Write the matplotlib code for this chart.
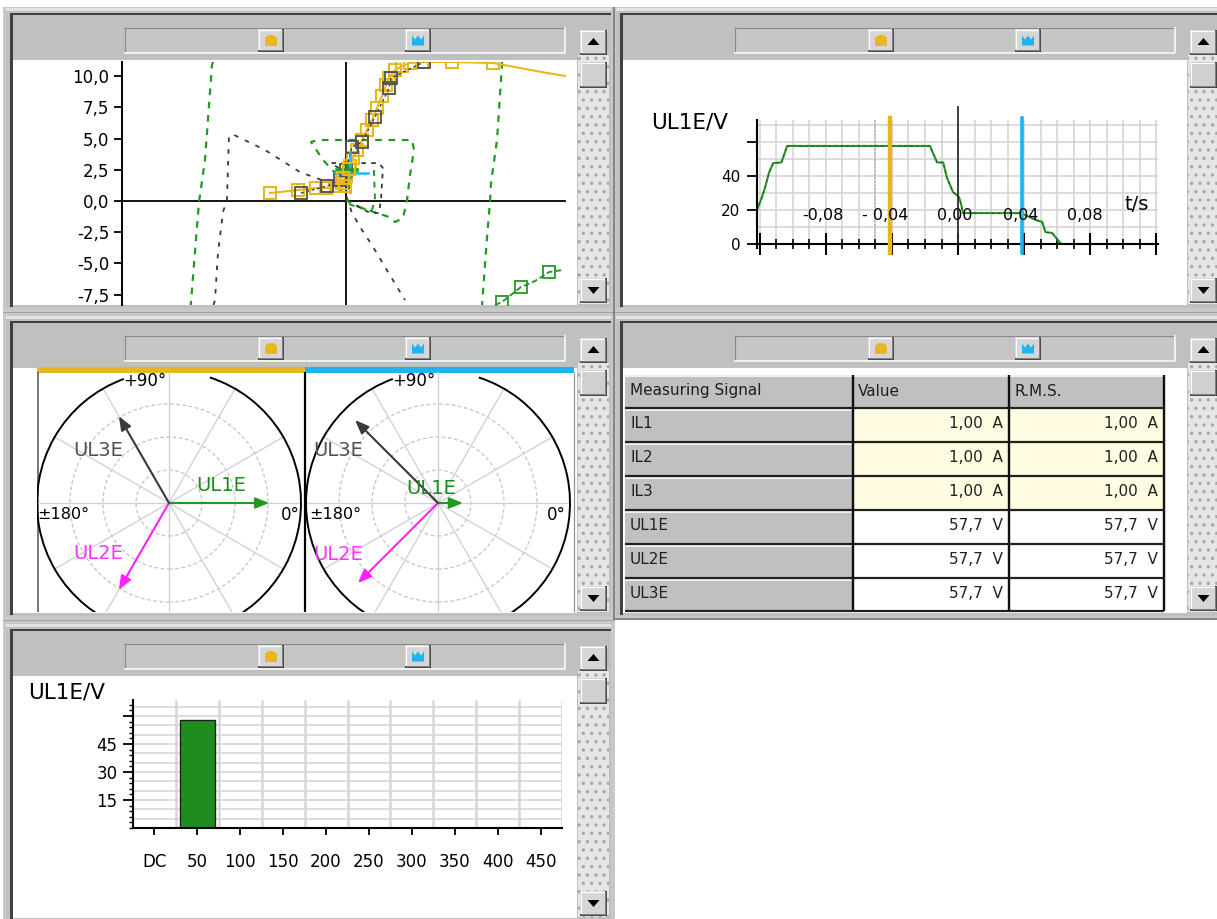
import matplotlib
matplotlib.use('Agg')
import matplotlib.pyplot as plt
from matplotlib.patches import Rectangle, Circle, Arc, Polygon, Ellipse
from matplotlib.ticker import MultipleLocator
import numpy as np

plt.rcParams['font.family'] = ['DejaVu Sans']
plt.rcParams['hatch.color'] = '#A0A0A0'
plt.rcParams['hatch.linewidth'] = 1.2

W, H = 1217, 919
YEL = '#E6B81E'
CYA = '#1EB4F0'
GRN = '#229A22'
DGR = '#3A3A3A'
MAG = '#FF22FF'
GRAYBG = '#C0C0C0'

# ------------------------------------------------------------------ data
# top-left locus plot
tl_yticks = [-7.5, -5.0, -2.5, 0.0, 2.5, 5.0, 7.5, 10.0]
tl_yticklabels = ['-7,5', '-5,0', '-2,5', '0,0', '2,5', '5,0', '7,5', '10,0']
yel_x = [-6.09, -3.85, -2.40, -1.60, -0.80, -0.32, 0.00, 0.32, 0.56, 0.88, 1.28, 1.68, 2.08,
         2.48, 2.88, 3.21, 3.45, 3.93, 4.49, 5.13, 6.09, 8.49, 11.78, 13.94, 16.11, 17.55]
yel_y = [0.64, 0.88, 1.04, 1.04, 1.20, 1.44, 2.00, 2.80, 3.45, 4.09, 4.89, 5.69, 6.49,
         7.45, 8.41, 9.29, 9.86, 10.50, 10.82, 11.06, 11.14, 11.14, 11.06, 10.66, 10.26, 10.02]
gsq_x = [-3.61, -1.52, -0.48, 0.00, 0.48, 1.28, 2.32, 3.45, 3.61, 6.25]
gsq_y = [0.64, 1.20, 1.68, 2.48, 4.33, 4.73, 6.73, 9.05, 9.86, 11.14]
gd_x = [-10.62, -10.50, -10.26, -9.86, -9.54, -9.38, -9.13, -6.49, -3.69, -1.28, 0.00,
        0.48, 1.28, 2.08, 3.13, 4.09, 4.73]
gd_y = [-8.33, -7.93, -4.17, -0.88, 0.08, 5.13, 5.37, 4.09, 2.32, 1.44, 0.48,
        -0.96, -2.32, -3.53, -5.29, -6.89, -7.93]
gl_x = [-10.66, -10.74, -11.30, -11.78, -12.44]
gl_y = [11.14, 10.90, 3.29, -0.08, -8.33]
gr_x = [12.50, 12.50, 12.10, 11.62, 11.54, 11.30, 10.90]
gr_y = [11.14, 10.90, 4.89, 1.44, -0.08, -2.88, -8.33]
gb_x = [0.00, -1.84, -2.80, -2.24, 5.29, 5.45, 5.13, 4.89, 4.57, 3.93, 3.45, 2.24, 0.64, 0.00]
gb_y = [1.28, 3.29, 4.73, 4.89, 4.89, 4.09, 2.08, 0.08, -1.36, -1.68, -1.28, -0.88, -0.32, 0.08]
gs_x = [0.10, -1.20, 2.64, 2.96, 2.80, 2.64, 1.92, 0.48]
gs_y = [2.20, 3.04, 3.04, 2.64, 0.08, -0.96, -0.96, -0.16]
gi_x = [2.24, 2.32, 2.08, 1.12, 0.00]
gi_y = [2.48, 0.08, -0.72, -0.56, -0.16]
cyh_x = [-0.88, 1.76]
cyh_y = [2.24, 2.24]
cyv_x = [0.32, 0.32]
cyv_y = [0.72, 3.85]
gc_x = [-0.72, 0.88, 0.30, 0.08, 0.32]
gc_y = [2.48, 2.48, 2.48, 3.04, 1.12]
ysq_c_x = [-0.24, -0.08, 0.20]
ysq_c_y = [1.84, 1.20, 2.60]
gsr_x = [11.94, 12.50, 14.02, 15.14, 16.27, 17.31]
gsr_y = [-8.33, -8.09, -6.89, -6.41, -5.69, -5.53]

# top-right time signal
tr_t = [-0.1218, -0.119, -0.117, -0.1145, -0.112, -0.107, -0.105, -0.1036, -0.017, -0.0127,
        -0.009, -0.0067, -0.003, 0.0006, 0.002, 0.003, 0.038, 0.0475, 0.051, 0.053, 0.057,
        0.0625, 0.1212]
tr_v = [20, 27, 33, 42, 47.6, 48, 53.5, 57.7, 57.7, 48, 48, 39, 30.6, 27.6, 23, 18.2, 18.2,
        14, 13, 7, 6.5, 0, 0]
tr_yticks = [0, 20, 40, 60]
tr_yticklabels = ['0', '20', '40', '']
tr_xlabel_t = [-0.082, -0.044, -0.002, 0.038, 0.077]
tr_xlabels = ['-0,08', '- 0,04', '0,00', '0,04', '0,08']
cursor_t = [-0.041, 0.039]
ref_t = -0.05

# phasor diagrams
phasor_names = ['UL1E', 'UL2E', 'UL3E']
pol_left_ang = [0, -120, 120]
pol_left_mag = [57.7, 57.7, 57.7]
pol_right_ang = [0, -135, 135]
pol_right_mag = [14.4, 65.2, 67.5]
ring_r = [19, 38, 57]
outer_r = 76

# table
tbl_header = ['Measuring Signal', 'Value', 'R.M.S.']
tbl_signals = ['IL1', 'IL2', 'IL3', 'UL1E', 'UL2E', 'UL3E']
tbl_value = [1.00, 1.00, 1.00, 57.7, 57.7, 57.7]
tbl_rms = [1.00, 1.00, 1.00, 57.7, 57.7, 57.7]
tbl_unit = ['A', 'A', 'A', 'V', 'V', 'V']

# harmonics bar chart
harm_labels = ['DC', '50', '100', '150', '200', '250', '300', '350', '400', '450']
harm_values = [0, 57.7, 0, 0, 0, 0, 0, 0, 0, 0]
harm_yticks = [15, 30, 45, 60]
harm_yticklabels = ['15', '30', '45', '']

# ------------------------------------------------------------------ figure
fig = plt.figure(figsize=(W / 100, H / 100), dpi=100)
bg = fig.add_axes([0, 0, 1, 1])
bg.set_xlim(0, W)
bg.set_ylim(H, 0)
bg.axis('off')
PX = 0.72


def R(x0, y0, x1, y1, fc, z=1, **kw):
    bg.add_patch(Rectangle((x0, y0), x1 - x0, y1 - y0, facecolor=fc,
                           edgecolor=kw.pop('ec', 'none'), linewidth=kw.pop('lw', 0), zorder=z, **kw))


def L(xs, ys, c, w=1.0, z=2, **kw):
    bg.plot(xs, ys, color=c, lw=w * PX, zorder=z, solid_capstyle='butt', **kw)


def bevel(x0, y0, x1, y1, fc, z=3):
    R(x0, y0, x1, y1, fc, z=z)
    L([x0, x1], [y0 + 0.5, y0 + 0.5], 'white', 1.2, z + 0.1)
    L([x0 + 0.5, x0 + 0.5], [y0, y1], 'white', 1.2, z + 0.1)
    L([x0, x1], [y1 - 0.7, y1 - 0.7], '#202020', 1.5, z + 0.1)
    L([x1 - 0.7, x1 - 0.7], [y0, y1], '#202020', 1.5, z + 0.1)
    L([x0 + 1, x1 - 1.5], [y1 - 2.2, y1 - 2.2], '#808080', 1, z + 0.1)
    L([x1 - 2.2, x1 - 2.2], [y0 + 1, y1 - 1.5], '#808080', 1, z + 0.1)


def axpx(x0, y0, x1, y1):
    a = fig.add_axes([x0 / W, 1 - y1 / H, (x1 - x0) / W, (y1 - y0) / H])
    a.set_facecolor('none')
    return a


def panel(x0, y0, x1, y1):
    R(x0, y0, x1, y1, GRAYBG)
    R(x0, y0, x1, y0 + 3, '#E2E2E2', z=1.1)
    R(x0 + 4, y0 + 5, x1, y0 + 7, '#404040', z=1.2)
    R(x0 + 4, y0 + 5, x0 + 7, y1 - 1, '#404040', z=1.2)
    R(x0 + 7, y0 + 52, x1 - 34, y1 - 3, 'white', z=1.3)
    # title bar strip
    R(x0 + 118, y0 + 19, x0 + 559, y0 + 45, '#C6C6C6', z=1.4)
    L([x0 + 118, x0 + 559], [y0 + 19.5, y0 + 19.5], '#8A8A8A', 1.2, 1.5)
    L([x0 + 118.5, x0 + 118.5], [y0 + 19, y0 + 45], '#8A8A8A', 1.2, 1.5)
    L([x0 + 118, x0 + 559], [y0 + 44.5, y0 + 44.5], 'white', 1.5, 1.5)
    L([x0 + 558.5, x0 + 558.5], [y0 + 19, y0 + 45], 'white', 1.5, 1.5)
    # buttons with icons
    for bx, col, kind in [(x0 + 252, YEL, 'dome'), (x0 + 399, CYA, 'crown')]:
        bevel(bx, y0 + 21, bx + 26, y0 + 44, '#D6D6D6')
        cx, cy = bx + 13, y0 + 32.5
        if kind == 'dome':
            bg.add_patch(Rectangle((cx - 6, cy - 1), 12, 6, facecolor=col, edgecolor='none', zorder=4))
            bg.add_patch(Ellipse((cx, cy - 1), 12, 9, facecolor=col, edgecolor='none', zorder=4))
        else:
            bg.add_patch(Polygon([(cx - 6, cy + 5), (cx - 6, cy - 5), (cx - 3, cy - 1), (cx, cy - 5),
                                  (cx + 3, cy - 1), (cx + 6, cy - 5), (cx + 6, cy + 5)],
                                 closed=True, facecolor=col, edgecolor='none', zorder=4))
    # scrollbar
    R(x1 - 33, y0 + 47, x1 - 2, y1 - 4, '#E6E6E6', z=1.4, hatch='..', ec='#A8A8A8', lw=0)
    bevel(x1 - 31, y0 + 22, x1 - 4, y0 + 47, '#D6D6D6')
    ux, uy = x1 - 17.5, y0 + 34
    bg.add_patch(Polygon([(ux - 6, uy + 3), (ux + 6, uy + 3), (ux, uy - 4)], closed=True,
                         facecolor='black', edgecolor='none', zorder=4))
    bevel(x1 - 31, y0 + 54, x1 - 4, y0 + 80, '#D0D0D0')
    bevel(x1 - 31, y1 - 30, x1 - 4, y1 - 5, '#D6D6D6')
    dx, dy = x1 - 17.5, y1 - 18
    bg.add_patch(Polygon([(dx - 6, dy - 3), (dx + 6, dy - 3), (dx, dy + 4)], closed=True,
                         facecolor='black', edgecolor='none', zorder=4))


R(0, 0, W, H, 'white', z=0.5)
R(3, 7, W, 620, '#C8C8C8', z=0.6)
R(3, 620, 615, H, '#C8C8C8', z=0.6)
L([3, W], [312, 312], '#808080', 1, 0.7, linestyle=(0, (1, 1)))
L([3, 615], [620, 620], '#808080', 1, 0.7, linestyle=(0, (1, 1)))
L([613.5, 613.5], [7, 620], '#707070', 1.5, 0.7)
L([615, W], [619, 619], '#707070', 1.5, 0.7)

panel(6, 8, 611, 308)
panel(616, 8, 1221, 308)
panel(6, 316, 611, 616)
panel(616, 316, 1221, 616)
panel(6, 624, 611, 921)

# ------------------------------------------------------------------ top-left: locus
ax1 = axpx(122, 62, 576, 305)
ax1.set_xlim(-17.95, 18.43)
ax1.set_ylim(-8.33, 11.14)
for s in ['top', 'right', 'bottom']:
    ax1.spines[s].set_visible(False)
ax1.spines['left'].set_linewidth(1.4)
ax1.set_xticks([])
ax1.set_yticks(tl_yticks)
ax1.set_yticklabels(tl_yticklabels)
ax1.tick_params(axis='y', length=6, width=1.3, labelsize=12, pad=3)
ax1.plot([-17.95, 17.55], [0, 0], color='black', lw=1.3, zorder=2)
ax1.plot([0, 0], [-8.33, 11.14], color='black', lw=1.3, zorder=2)
ax1.plot(gl_x, gl_y, color=GRN, lw=1.6, ls=(0, (3, 3)), zorder=3)
ax1.plot(gr_x, gr_y, color=GRN, lw=1.6, ls=(0, (3, 3)), zorder=3)
ax1.plot(gd_x, gd_y, color=DGR, lw=1.3, ls=(0, (2.5, 4)), zorder=3)
ax1.plot(gb_x, gb_y, color=GRN, lw=1.6, ls=(0, (3, 3)), zorder=3)
ax1.plot(gs_x, gs_y, color=DGR, lw=1.3, ls=(0, (2.5, 3)), zorder=3)
ax1.plot(gi_x, gi_y, color=GRN, lw=1.4, ls=(0, (3, 3)), zorder=3)
ax1.plot(yel_x, yel_y, color=YEL, lw=1.5, marker='s', ms=8, mfc='none', mec=YEL, mew=1.5,
         markevery=list(range(0, 23)), zorder=4)
ax1.plot(gsq_x, gsq_y, color=DGR, lw=1.0, ls=(0, (2, 2)), marker='s', ms=8, mfc='none',
         mec='#505050', mew=1.3, zorder=4)
ax1.plot(cyh_x, cyh_y, color=CYA, lw=1.8, zorder=5)
ax1.plot(cyv_x, cyv_y, color=CYA, lw=1.8, zorder=5)
ax1.plot(gc_x[:2], gc_y[:2], color=GRN, lw=2.6, zorder=5)
ax1.plot(gc_x[3:], gc_y[3:], color=GRN, lw=2.6, zorder=5)
ax1.plot(ysq_c_x, ysq_c_y, ls='none', marker='s', ms=8, mfc='none', mec=YEL, mew=1.5, zorder=5)
ax1.plot(gsr_x, gsr_y, color=GRN, lw=1.4, ls=(0, (3, 1.5)), marker='s', ms=8, mfc='none',
         mec=GRN, mew=1.3, markevery=[1, 2, 4], zorder=4)

# ------------------------------------------------------------------ top-right: time signal
ax2 = axpx(757, 105, 1160, 256)
ax2.set_xlim(-0.1218, 0.1224)
ax2.set_ylim(-7.06, 81.8)
for s in ['top', 'right']:
    ax2.spines[s].set_visible(False)
ax2.spines['left'].set_bounds(-2.4, 72.9)
ax2.spines['left'].set_linewidth(1.5)
ax2.spines['bottom'].set_position(('data', 0))
ax2.spines['bottom'].set_bounds(-0.1218, 0.1212)
ax2.spines['bottom'].set_linewidth(1.5)
ax2.xaxis.set_major_locator(MultipleLocator(0.04))
ax2.xaxis.set_minor_locator(MultipleLocator(0.01))
ax2.tick_params(axis='x', which='major', direction='inout', length=16, width=1.5, labelbottom=False)
ax2.tick_params(axis='x', which='minor', direction='inout', length=7, width=1.2)
ax2.set_yticks(tr_yticks)
ax2.set_yticklabels(tr_yticklabels)
ax2.tick_params(axis='y', direction='out', length=7, width=1.3, labelsize=11, pad=5)
ax2.vlines(np.arange(-0.12, 0.1201, 0.01), 0, 72.9, color='#D2D2D2', lw=1.1, zorder=0.5)
ax2.hlines(np.arange(10, 71, 10), -0.1218, 0.1212, color='#D2D2D2', lw=1.1, zorder=0.5)
ax2.plot([ref_t, ref_t], [0, 72.9], color='#B4B4B4', lw=1.3, ls=(0, (1, 1)), zorder=0.6)
ax2.plot(tr_t, tr_v, color=GRN, lw=1.5, zorder=2)
ax2.plot(tr_t, tr_v, color='#1C4A1C', lw=0.6, ls=(0, (3, 4)), zorder=2.1)
ax2.plot([0, 0], [0, 80.6], color='#303030', lw=1.3, zorder=2.2)
ax2.plot([cursor_t[0]] * 2, [-5.3, 74.1], color=YEL, lw=3.2, zorder=3, clip_on=False)
ax2.plot([cursor_t[1]] * 2, [-5.3, 74.1], color=CYA, lw=2.6, zorder=3, clip_on=False)
for t, lab in zip(tr_xlabel_t, tr_xlabels):
    ax2.text(t, 17.0, lab, ha='center', va='center', fontsize=11.5, zorder=4)
ax2.text(0.1085, 23.5, 't/s', ha='center', va='center', fontsize=14, zorder=4)
bg.text(651, 122, 'UL1E/V', ha='left', va='center', fontsize=15.5, zorder=5)

# ------------------------------------------------------------------ middle-left: phasors
PPU = 1.737
R(37, 367, 305, 373, YEL, z=2)
R(305, 367, 574, 373, CYA, z=2)
L([37.5, 37.5], [372, 612], '#505050', 1.5, 2)
L([573.5, 573.5], [372, 612], '#909090', 1.2, 2)
name_cols = [GRN, MAG, DGR]
text_cols = ['#1E8A1E', '#FF33FF', '#505050']


def phasor_axes(xa0, xa1, cx, cy, angs, mags, lab_pos, ang_pos):
    a = axpx(xa0, 372, xa1, 612)
    a.set_xlim((xa0 - cx) / PPU, (xa1 - cx) / PPU)
    a.set_ylim((cy - 612) / PPU, (cy - 372) / PPU)
    a.axis('off')
    for rr in ring_r:
        a.add_patch(Circle((0, 0), rr, fill=False, ec='#C4C4C4', lw=0.9, ls=(0, (3, 2))))
    for ang in range(0, 360, 30):
        a.plot([0, outer_r * np.cos(np.radians(ang))], [0, outer_r * np.sin(np.radians(ang))],
               color='#CFCFCF', lw=0.9, zorder=1)
    a.add_patch(Arc((0, 0), 2 * outer_r, 2 * outer_r, theta1=110, theta2=72, color='black', lw=1.4))
    for ang, m, c in zip(angs, mags, name_cols):
        tip = (m * np.cos(np.radians(ang)), m * np.sin(np.radians(ang)))
        a.annotate('', xy=tip, xytext=(0, 0),
                   arrowprops=dict(arrowstyle='-|>,head_length=0.55,head_width=0.22', color=c,
                                   lw=1.5, shrinkA=0, shrinkB=0, mutation_scale=15), zorder=3)
    for nm, pos, tc in zip(phasor_names, lab_pos, text_cols):
        a.text(pos[0], pos[1], nm, color=tc, fontsize=14, ha='center', va='center', zorder=4)
    a.text(ang_pos[0][0], ang_pos[0][1], '+90°', fontsize=12, ha='center', va='center', zorder=4)
    a.text(ang_pos[1][0], ang_pos[1][1], '±180°', fontsize=11.5, ha='center', va='center', zorder=4)
    a.text(ang_pos[2][0], ang_pos[2][1], '0°', fontsize=12, ha='center', va='center', zorder=4)
    return a


phasor_axes(37, 305, 169, 503, pol_left_ang, pol_left_mag,
            [(29.9, 9.8), (-40.9, -28.8), (-40.9, 30.5)],
            [(-13.8, 70.2), (-61.0, -6.9), (69.7, -6.9)])
phasor_axes(305, 574, 438, 503, pol_right_ang, pol_right_mag,
            [(-4.0, 8.6), (-57.6, -29.4), (-57.6, 30.5)],
            [(-13.8, 70.2), (-59.0, -6.9), (67.9, -6.9)])
L([305, 305], [372, 612], 'black', 2.2, 6)

# ------------------------------------------------------------------ middle-right: table
cx0, cx1, cx2, cx3 = 625, 853, 1009, 1164
R(cx0, 375, cx3, 407, GRAYBG, z=2)
L([cx0, cx3], [375.7, 375.7], 'white', 1.5, 2.5)
bg.text(630, 391, tbl_header[0], fontsize=11, ha='left', va='center', zorder=5, color='#202020')
bg.text(858, 391, tbl_header[1], fontsize=11, ha='left', va='center', zorder=5, color='#202020')
bg.text(1014, 391, tbl_header[2], fontsize=11, ha='left', va='center', zorder=5, color='#202020')
row_h = 34
for i, (sig, v, r, u) in enumerate(zip(tbl_signals, tbl_value, tbl_rms, tbl_unit)):
    y0 = 407 + i * row_h
    y1 = y0 + row_h
    R(cx0, y0, cx1, y1, GRAYBG, z=2)
    L([cx0, cx1], [y0 + 2.5, y0 + 2.5], 'white', 1.5, 2.5)
    fill = '#FFFCE2' if u == 'A' else 'white'
    R(cx1, y0, cx3, y1, fill, z=2)
    L([cx0, cx3], [y0 + 0.5, y0 + 0.5], '#202020', 2.2, 2.6)
    ym = (y0 + y1) / 2
    fmt = '{:.2f}' if v < 10 else '{:.1f}'
    bg.text(630, ym, sig, fontsize=11, ha='left', va='center', zorder=5, color='#202020')
    bg.text(1003, ym, fmt.format(v).replace('.', ',') + '  ' + u, fontsize=11, ha='right',
            va='center', zorder=5, color='#202020')
    bg.text(1158, ym, fmt.format(r).replace('.', ',') + '  ' + u, fontsize=11, ha='right',
            va='center', zorder=5, color='#202020')
yb = 407 + len(tbl_signals) * row_h
L([cx0, cx3], [yb - 0.5, yb - 0.5], '#202020', 2.2, 2.6)
for xx in (cx1, cx2, cx3):
    L([xx, xx], [375, yb], '#101010', 2.4, 2.7)

# ------------------------------------------------------------------ bottom-left: harmonics
ax5 = axpx(133, 700, 562, 828)
ax5.set_xlim(-0.5, 9.5)
ax5.set_ylim(0, 68.6)
for s in ['top', 'right']:
    ax5.spines[s].set_visible(False)
ax5.spines['left'].set_linewidth(1.5)
ax5.spines['bottom'].set_linewidth(1.5)
ax5.hlines(np.arange(5, 66, 5), -0.5, 9.5, color='#DADADA', lw=1.3, zorder=0.5)
ax5.vlines(np.arange(0.5, 9.6, 1), 0, 68.6, color='#D6D6D6', lw=1.8, zorder=0.5)
ax5.bar(range(len(harm_labels)), harm_values, width=0.82, color='#1E8C1E', edgecolor='#202020',
        linewidth=1.0, zorder=2)
ax5.set_xticks(range(len(harm_labels)))
ax5.set_xticklabels(harm_labels)
ax5.tick_params(axis='x', length=5, width=1.3, pad=13, labelsize=12)
ax5.set_yticks(harm_yticks)
ax5.set_yticklabels(harm_yticklabels)
ax5.yaxis.set_minor_locator(MultipleLocator(3))
ax5.tick_params(axis='y', which='major', length=7, width=1.3, labelsize=12, pad=4)
ax5.tick_params(axis='y', which='minor', length=3, width=1.0)
bg.text(28, 693, 'UL1E/V', ha='left', va='center', fontsize=15.5, zorder=5)

fig.savefig('out.png', dpi=100)
